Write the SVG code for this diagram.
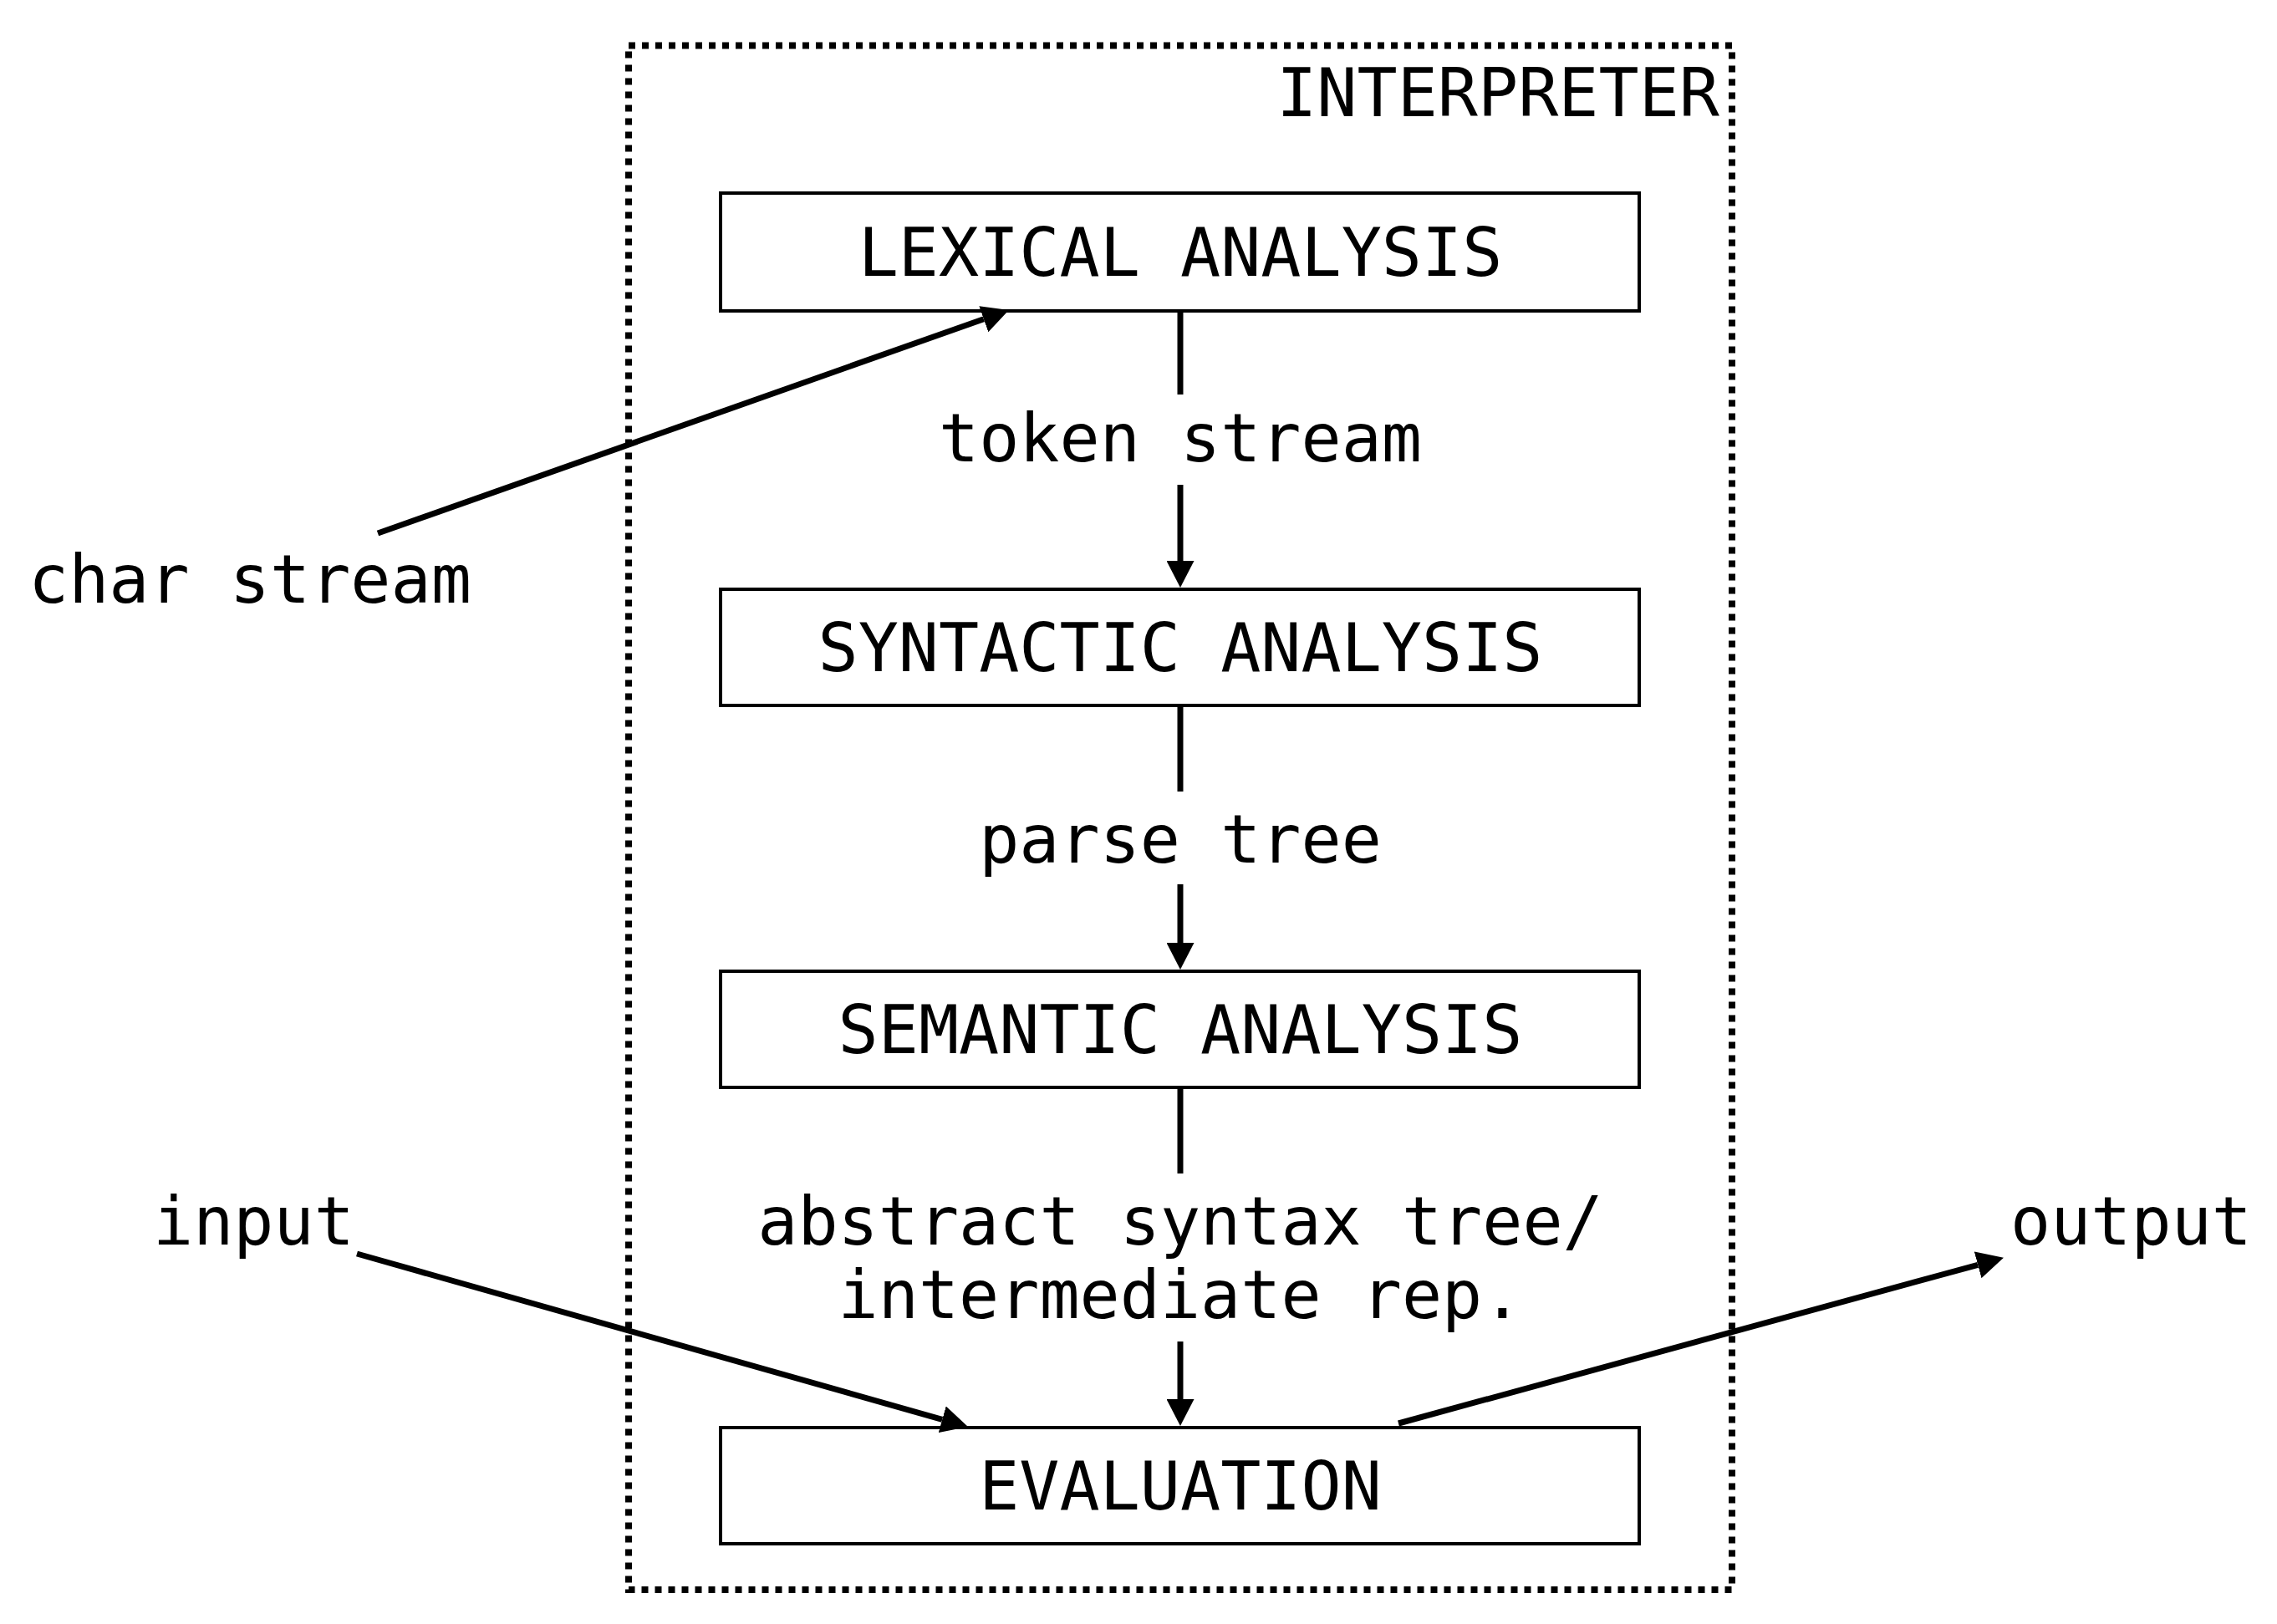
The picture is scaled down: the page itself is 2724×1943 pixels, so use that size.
<svg xmlns="http://www.w3.org/2000/svg" width="2724" height="1943" viewBox="0 0 2724 1943">
<style>
text{font-family:"DejaVu Sans Mono","Liberation Mono",monospace;font-size:80px;fill:#000}
.box{fill:#fff;stroke:#000;stroke-width:4}
.c{text-anchor:middle}
.edge{stroke:#000;stroke-width:7;fill:none}
</style>
<defs>
<marker id="ah" viewBox="0 0 32 33" refX="0" refY="16.5" markerWidth="32" markerHeight="33" markerUnits="userSpaceOnUse" orient="auto">
<path d="M0,0 L32,16.5 L0,33 Z" fill="#000"/>
</marker>
</defs>
<rect width="2724" height="1943" fill="#fff"/>
<g id="interpreter">
<rect x="752" y="54.5" width="1320" height="1847.5" fill="none" stroke="#000" stroke-width="8" stroke-dasharray="8 8"/>
<text x="2057" y="139" text-anchor="end">INTERPRETER</text>
</g>
<g id="lexical">
<rect class="box" x="862" y="231" width="1099" height="141"/>
<text class="c" x="1412" y="330">LEXICAL ANALYSIS</text>
</g>
<g id="syntactic">
<rect class="box" x="862" y="705" width="1099" height="139"/>
<text class="c" x="1412" y="803">SYNTACTIC ANALYSIS</text>
</g>
<g id="semantic">
<rect class="box" x="862" y="1162" width="1099" height="139"/>
<text class="c" x="1412" y="1260">SEMANTIC ANALYSIS</text>
</g>
<g id="evaluation">
<rect class="box" x="862" y="1708" width="1099" height="139"/>
<text class="c" x="1412" y="1806">EVALUATION</text>
</g>
<g id="connectors">
<line class="edge" x1="1412" y1="372" x2="1412" y2="472"/>
<line class="edge" x1="1412" y1="580" x2="1412" y2="671" marker-end="url(#ah)"/>
<line class="edge" x1="1412" y1="844" x2="1412" y2="947"/>
<line class="edge" x1="1412" y1="1058" x2="1412" y2="1128" marker-end="url(#ah)"/>
<line class="edge" x1="1412" y1="1301" x2="1412" y2="1404"/>
<line class="edge" x1="1412" y1="1605" x2="1412" y2="1674" marker-end="url(#ah)"/>
<line class="edge" x1="452" y1="638" x2="1176.8" y2="381.7" marker-end="url(#ah)"/>
<line class="edge" x1="427" y1="1500" x2="1127.2" y2="1698.3" marker-end="url(#ah)"/>
<line class="edge" x1="1673" y1="1703" x2="2366.1" y2="1513.3" marker-end="url(#ah)"/>
</g>
<g id="labels">
<text class="c" x="1412" y="552">token stream</text>
<text class="c" x="1412" y="1032">parse tree</text>
<text class="c" x="1412" y="1489">abstract syntax tree/</text>
<text class="c" x="1412" y="1577">intermediate rep.</text>
<text x="34" y="721">char stream</text>
<text x="183" y="1489">input</text>
<text x="2405" y="1489">output</text>
</g>
</svg>
